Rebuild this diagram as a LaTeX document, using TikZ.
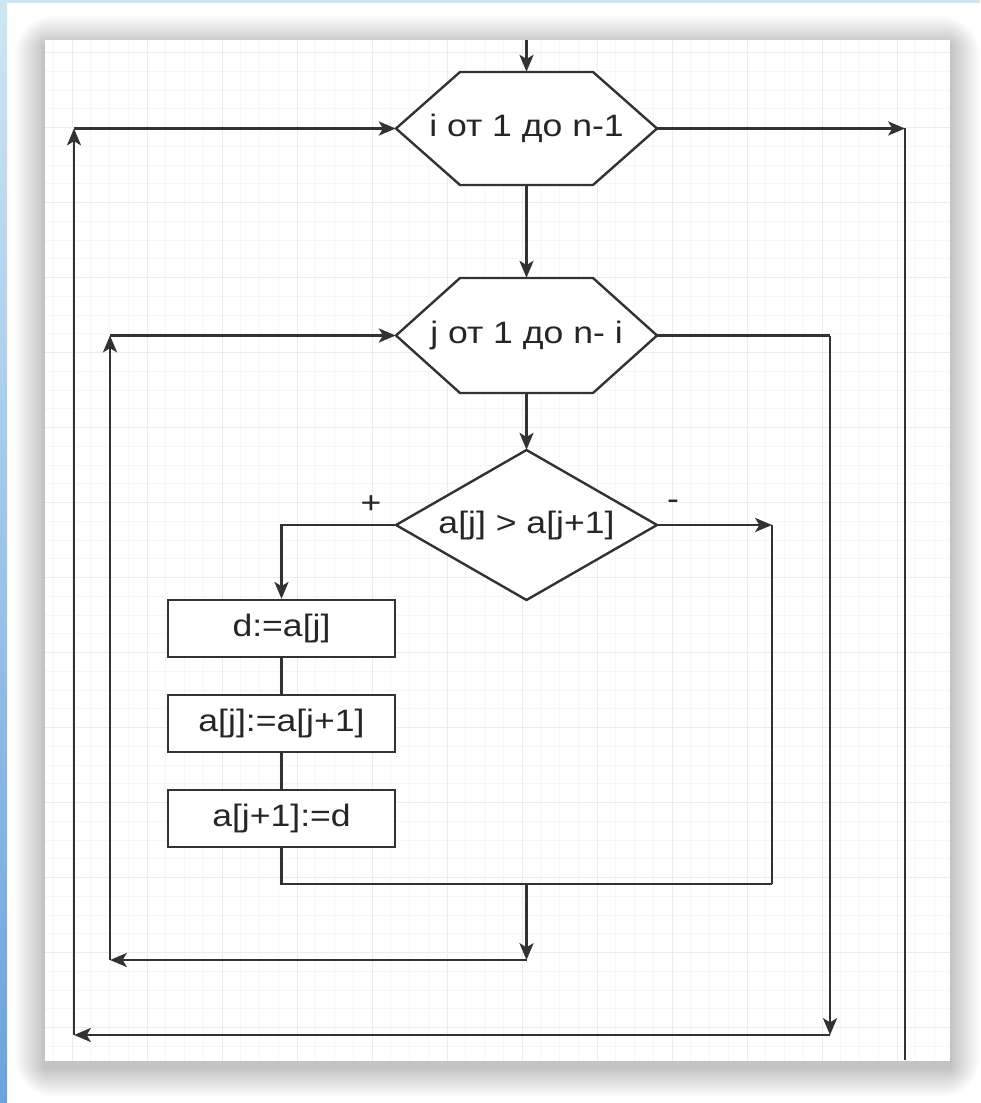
\documentclass[tikz,border=0pt]{standalone}
\usepackage{fontspec}
\setmainfont{Liberation Sans}
\newfontfamily\dfont[FakeStretch=1.15]{Liberation Sans}
\usetikzlibrary{arrows.meta,calc}
\definecolor{ln}{RGB}{50,50,50}
\definecolor{bluetop}{RGB}{205,230,245}
\definecolor{bluebot}{RGB}{106,163,222}
\definecolor{gridminor}{RGB}{246,246,246}
\definecolor{gridmajor}{RGB}{236,236,236}
\begin{document}
\begin{tikzpicture}[x=0.025cm,y=-0.025cm,
  conn/.style={draw=ln,line width=1.7pt},
  arr/.style={conn,-{Stealth[length=12pt,width=10pt,inset=3pt]}},
  txt/.style={font=\dfont\fontsize{22}{26}\selectfont,text=black!85},
  shapeline/.style={draw=ln,line width=1.7pt,fill=white,line join=miter},
  hexnode/.style={txt,draw=none,inner sep=0pt,minimum width=6.525cm,minimum height=2.825cm},
  dianode/.style={txt,draw=none,inner sep=0pt,minimum width=6.525cm,minimum height=3.75cm},
  boxnode/.style={txt,shapeline,inner sep=0pt,minimum width=5.675cm,minimum height=1.425cm},
  lbl/.style={txt,inner sep=0pt}]
% page
\fill[white] (0,0) rectangle (980,1103);
\useasboundingbox (0,0) rectangle (980,1103);
\shade[top color=bluetop,bottom color=bluebot] (0,0) rectangle (7,1103);
\fill[bluetop] (0,0) rectangle (980,3);
% shadow of the paper
\foreach \i in {1,...,20}{
  \pgfmathsetmacro\rc{\i*0.05}
  \fill[black,opacity=0.011,rounded corners=\rc cm] (45-1.5*\i,40-1.5*\i+6) rectangle (950+1.5*\i,1061+1.5*\i+6);
}
% paper
\fill[white] (45,40) rectangle (950,1061);
\begin{scope}
\clip (45,40) rectangle (950,1061);
\foreach \x in {53.25,72,...,950}{\draw[gridminor,line width=0.5pt] (\x,40) -- (\x,1061);}
\foreach \y in {52.5,71.25,...,1061}{\draw[gridminor,line width=0.5pt] (45,\y) -- (950,\y);}
\foreach \x in {72,147,...,950}{\draw[gridmajor,line width=0.6pt] (\x,40) -- (\x,1061);}
\foreach \y in {52.5,127.5,...,1061}{\draw[gridmajor,line width=0.6pt] (45,\y) -- (950,\y);}
\end{scope}
% shapes
\coordinate (c1) at (526.5,128.5);
\coordinate (c2) at (526.5,335.5);
\coordinate (c3) at (526.5,525);
\draw[shapeline] ($(c1)+(-130.5,0)$) -- ($(c1)+(-66.5,-56.5)$) -- ($(c1)+(66.5,-56.5)$) -- ($(c1)+(130.5,0)$) -- ($(c1)+(66.5,56.5)$) -- ($(c1)+(-66.5,56.5)$) -- cycle;
\draw[shapeline] ($(c2)+(-130.5,0)$) -- ($(c2)+(-66.5,-57.5)$) -- ($(c2)+(66.5,-57.5)$) -- ($(c2)+(130.5,0)$) -- ($(c2)+(66.5,57.5)$) -- ($(c2)+(-66.5,57.5)$) -- cycle;
\draw[shapeline] ($(c3)+(-130.5,0)$) -- ($(c3)+(0,-75)$) -- ($(c3)+(130.5,0)$) -- ($(c3)+(0,75)$) -- cycle;
\node[hexnode] (h1) at (c1) {i от 1 до n-1};
\node[hexnode,minimum height=2.875cm] (h2) at (c2) {j от 1 до n- i};
\node[dianode] (dm) at (c3) {a[j] > a[j+1]};
\node[boxnode] (b1) at (281.5,628.5) {d:=a[j]};
\node[boxnode] (b2) at (281.5,723.5) {a[j]:=a[j+1]};
\node[boxnode] (b3) at (281.5,818.5) {a[j+1]:=d};
\node[lbl] (plus) at (371,505) {+};
\node[lbl] (minus) at (673,505) {-};
% connectors
\coordinate (ptop) at (526.5,40);
\draw[arr] (ptop) -- (h1.north);
\draw[arr] (h1.south) -- (h2.north);
\draw[arr] (h2.south) -- (dm.north);
\draw[arr] (dm.west) -| (b1.north);
\draw[conn] (b1.south) -- (b2.north);
\draw[conn] (b2.south) -- (b3.north);
\coordinate (rj) at (772,525);
\coordinate (rjb) at (772,884);
\draw[arr] (dm.east) -- (rj);
\draw[conn] (rj) -- (rjb);
\draw[conn] (b3.south) |- (rjb);
\coordinate (mj) at (526.5,884);
\coordinate (mjb) at (526.5,960);
\coordinate (lj) at (110,960);
\coordinate (ljt) at (110,335.5);
\draw[arr] (mj) -- (mjb);
\draw[arr] (mjb) -- (lj);
\draw[arr] (lj) -- (ljt);
\draw[arr] (ljt) -- (h2.west);
\coordinate (ri) at (830,335.5);
\coordinate (rib) at (830,1035);
\coordinate (li) at (74,1035);
\coordinate (lit) at (74,128.5);
\draw[conn] (h2.east) -- (ri);
\draw[arr] (ri) -- (rib);
\draw[arr] (rib) -- (li);
\draw[arr] (li) -- (lit);
\draw[arr] (lit) -- (h1.west);
\coordinate (ex) at (905,128.5);
\coordinate (exb) at (905,1060);
\draw[arr] (h1.east) -- (ex);
\draw[conn] (ex) -- (exb);
\end{tikzpicture}
\end{document}
